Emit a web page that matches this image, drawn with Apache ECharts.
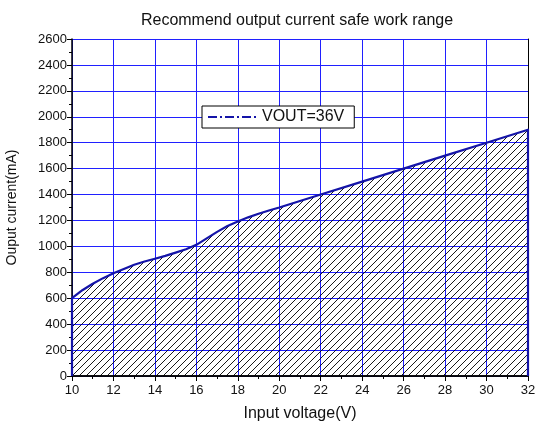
<!DOCTYPE html>
<html>
<head>
<meta charset="utf-8">
<script src="https://cdn.jsdelivr.net/npm/echarts@6/dist/echarts.min.js"></script>
<style>html,body{margin:0;padding:0;background:#fff;}#c{width:538px;height:430px;}</style>
</head>
<body>
<div id="c"></div>
<script>
var inputVoltage = [10, 10, 10.5, 11, 11.5, 12, 12.5, 13, 13.5, 14, 14.5, 15, 15.5, 16, 16.5, 17, 17.5, 18, 18.5, 19, 19.5, 20, 22, 24, 26, 28, 30, 32, 32];
var outputCurrent = [0, 600, 662, 712, 755, 792, 826, 858, 883, 905, 927, 952, 978, 1012, 1062, 1112, 1157, 1192, 1224, 1252, 1277, 1300, 1400, 1500, 1600, 1700, 1800, 1900, 0];
var seriesName = 'VOUT=36V';
var titleText = 'Recommend output current safe work range';
var xName = 'Input voltage(V)';
var yName = 'Ouput current(mA)';

var pts = inputVoltage.map(function (v, i) { return [v, outputCurrent[i]]; });

var cv = document.createElement('canvas');
cv.width = 7; cv.height = 7;
var g = cv.getContext('2d');
g.strokeStyle = '#000';
g.lineWidth = 0.9;
g.beginPath();
g.moveTo(-1, 8); g.lineTo(8, -1);
g.moveTo(-8, 8); g.lineTo(1, -1);
g.moveTo(6, 8); g.lineTo(15, -1);
g.stroke();

var font = '"Liberation Sans", Arial, sans-serif';
var chart = echarts.init(document.getElementById('c'), null, {renderer: 'canvas'});
chart.setOption({
  animation: false,
  backgroundColor: '#fff',
  title: {
    text: titleText, left: 292, top: 8, textAlign: 'center',
    textStyle: {fontFamily: font, fontSize: 16, fontWeight: 'normal', color: '#111'}
  },
  legend: {
    data: [seriesName], left: 202, top: 106,
    itemWidth: 48, itemHeight: 10, itemGap: 4,
    padding: [3, 10, 3, 5],
    borderColor: '#000', borderWidth: 1, backgroundColor: '#fff', borderRadius: 0,
    itemStyle: {opacity: 0},
    textStyle: {fontFamily: font, fontSize: 16, color: '#111', padding: [0, 0, 0, 1]}
  },
  grid: {left: 72, right: 10, top: 39, bottom: 54, containLabel: false, outerBoundsMode: 'none'},
  xAxis: [{
    type: 'value', min: 10, max: 32, interval: 2,
    name: xName, nameLocation: 'middle', nameGap: 30,
    nameTextStyle: {fontFamily: font, fontSize: 16, color: '#111'},
    axisLine: {show: true, lineStyle: {color: '#000', width: 1.5}},
    axisTick: {show: true, inside: false, length: 5, lineStyle: {color: '#000'}},
    minorTick: {show: true, splitNumber: 2, length: 3, lineStyle: {color: '#000'}},
    axisLabel: {fontFamily: font, fontSize: 13, color: '#111', margin: 8},
    splitLine: {show: true, lineStyle: {color: '#2020ff', width: 1}}
  }, {
    type: 'value', min: 10, max: 32, interval: 2, position: 'top',
    axisLine: {show: true, lineStyle: {color: '#000', width: 1.5}},
    axisTick: {show: false}, axisLabel: {show: false}, splitLine: {show: false}
  }],
  yAxis: [{
    type: 'value', min: 0, max: 2600, interval: 200,
    name: yName, nameLocation: 'middle', nameGap: 53,
    nameTextStyle: {fontFamily: font, fontSize: 14, color: '#111'},
    axisLine: {show: true, lineStyle: {color: '#000', width: 1.5}},
    axisTick: {show: true, inside: false, length: 5, lineStyle: {color: '#000'}},
    minorTick: {show: true, splitNumber: 2, length: 3, lineStyle: {color: '#000'}},
    axisLabel: {fontFamily: font, fontSize: 13, color: '#111', margin: 5, formatter: function (v) { return String(v); }},
    splitLine: {show: true, lineStyle: {color: '#2020ff', width: 1}}
  }, {
    type: 'value', min: 0, max: 2600, interval: 200, position: 'right',
    axisLine: {show: true, lineStyle: {color: '#000', width: 1}},
    axisTick: {show: false}, axisLabel: {show: false}, splitLine: {show: false}
  }],
  series: [{
    name: 'curve', type: 'line', data: pts, smooth: false, symbol: 'none',
    xAxisIndex: 0, yAxisIndex: 0,
    lineStyle: {color: '#1414a8', width: 2.2, join: 'round'},
    areaStyle: {color: {image: cv, repeat: 'repeat'}, opacity: 1, origin: 'start'},
    z: 5
  }, {
    name: seriesName, type: 'line', data: [], symbol: 'none',
    lineStyle: {color: '#1414a8', width: 2, type: [9, 3, 2, 3]},
    itemStyle: {color: '#1414a8'}
  }]
});
</script>
</body>
</html>
